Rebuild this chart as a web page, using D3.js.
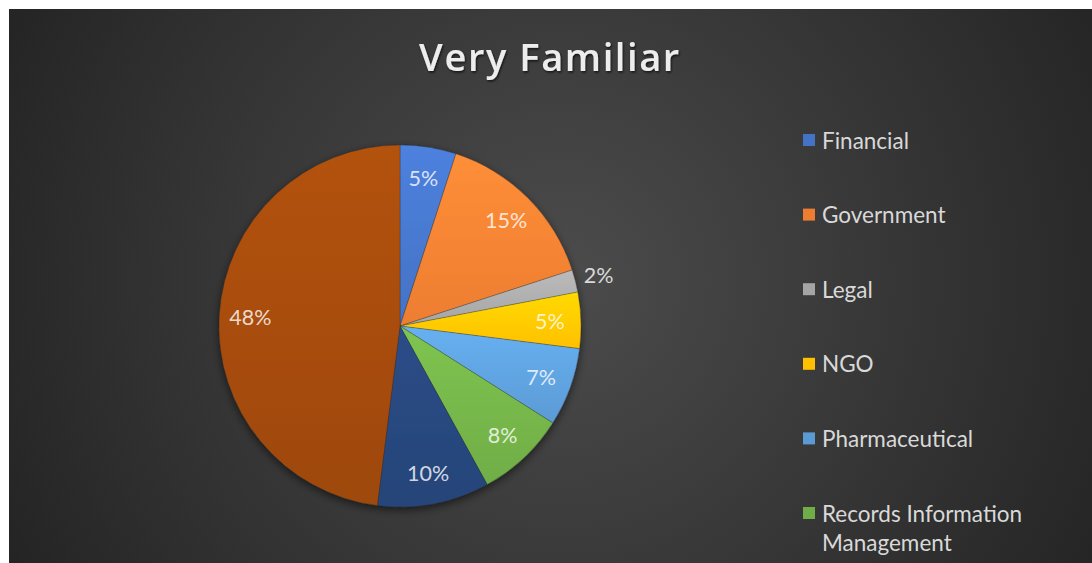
<!DOCTYPE html>
<html>
<head>
<meta charset="utf-8">
<script src="https://cdn.jsdelivr.net/npm/d3@7"></script>
<style>
  html, body { margin: 0; padding: 0; background: #ffffff; }
  svg { display: block; }
</style>
</head>
<body>
<svg id="chart" width="1092" height="563"></svg>
<script>
// Sectors of respondents who are "very familiar", share of answers in %
const categories = ["Financial", "Government", "Legal", "NGO", "Pharmaceutical",
                    "Records Information Management", "Category 7", "Category 8"];
const values = [5, 15, 2, 5, 7, 8, 10, 48];
const colors = ["#4472C4", "#ED7D31", "#A5A5A5", "#FFC000", "#5B9BD5",
                "#70AD47", "#264478", "#9E480E"];
const title = "Very Familiar";

const W = 1092, H = 563;
const svg = d3.select("#chart");
const defs = svg.append("defs");

// Chart area: dark radial backdrop
const bg = defs.append("radialGradient").attr("id", "bg")
  .attr("gradientUnits", "userSpaceOnUse")
  .attr("cx", 560).attr("cy", 280).attr("r", 620);
bg.append("stop").attr("offset", "0").attr("stop-color", "#4c4c4c");
bg.append("stop").attr("offset", "1").attr("stop-color", "#242424");

svg.append("rect").attr("x", 9).attr("y", 9)
  .attr("width", W - 9).attr("height", H - 9)
  .attr("fill", "url(#bg)");

// Soft shadows
const sh = defs.append("filter").attr("id", "pieShadow")
  .attr("x", "-20%").attr("y", "-20%").attr("width", "140%").attr("height", "140%");
sh.append("feDropShadow").attr("dx", 0).attr("dy", 3).attr("stdDeviation", 4)
  .attr("flood-color", "#000").attr("flood-opacity", 0.55);

const ts = defs.append("filter").attr("id", "textShadow")
  .attr("x", "-20%").attr("y", "-30%").attr("width", "140%").attr("height", "160%");
ts.append("feDropShadow").attr("dx", 1).attr("dy", 1.5).attr("stdDeviation", 1.2)
  .attr("flood-color", "#000").attr("flood-opacity", 0.7);

// Per-slice vertical gradients (lighter at top)
colors.forEach((c, i) => {
  const g = defs.append("linearGradient").attr("id", "slice" + i)
    .attr("x1", 0).attr("y1", 0).attr("x2", 0).attr("y2", 1);
  g.append("stop").attr("offset", "0").attr("stop-color", d3.color(c).brighter(0.35));
  g.append("stop").attr("offset", "1").attr("stop-color", c);
});

// Title
svg.append("text")
  .attr("x", 550).attr("y", 71)
  .attr("text-anchor", "middle")
  .attr("font-family", "'Open Sans', sans-serif")
  .attr("font-weight", 600)
  .attr("font-size", 38)
  .attr("letter-spacing", 1.6)
  .attr("fill", "#ededed")
  .attr("filter", "url(#textShadow)")
  .text(title);

// Pie
const cx = 400, cy = 326, R = 181;
const data = categories.map((c, i) => ({ name: c, value: values[i], color: colors[i], idx: i }));
const pie = d3.pie().value(d => d.value).sort(null);
const arcs = pie(data);
const arc = d3.arc().innerRadius(0).outerRadius(R);
const labelArc = d3.arc().innerRadius(150).outerRadius(150);
const outerLabelArc = d3.arc().innerRadius(205).outerRadius(205);

const gPie = svg.append("g").attr("transform", `translate(${cx},${cy})`);
gPie.append("g").attr("filter", "url(#pieShadow)")
  .selectAll("path").data(arcs).join("path")
  .attr("d", arc)
  .attr("fill", d => `url(#slice${d.data.idx})`)
  .attr("stroke", "rgba(40,40,40,0.35)")
  .attr("stroke-width", 0.8);

// Percentage labels: small slices get their label outside the pie
const fmt = d => Math.round(d.value) + "%";
gPie.append("g").selectAll("text").data(arcs).join("text")
  .each(function(d) {
    const small = (d.endAngle - d.startAngle) < 0.2;
    const p = (small ? outerLabelArc : labelArc).centroid(d);
    d3.select(this).attr("x", p[0]).attr("y", p[1])
      .attr("fill", small ? "#d9d9d9" : "rgba(255,255,255,0.8)");
  })
  .attr("text-anchor", "middle")
  .attr("dominant-baseline", "central")
  .attr("font-family", "Lato, sans-serif")
  .attr("font-size", 21.5)
  .text(d => fmt(d.data));

// Legend (entries that fit in the chart height)
const legX = 803, legY0 = 140, legStep = 74.6, lineH = 29;
const legend = svg.append("g");
data.forEach((d, i) => {
  const y = legY0 + i * legStep;
  if (y > H - 20) return;
  const item = legend.append("g");
  item.append("rect").attr("x", legX).attr("y", y - 6)
    .attr("width", 12).attr("height", 12).attr("fill", d.color);
  const words = d.name.split(" ");
  const lines = words.length > 2 ? [words.slice(0, 2).join(" "), words.slice(2).join(" ")] : [d.name];
  lines.forEach((ln, k) => {
    item.append("text")
      .attr("x", legX + 19).attr("y", y + k * lineH)
      .attr("dominant-baseline", "central")
      .attr("font-family", "Lato, sans-serif")
      .attr("font-size", 22.5)
      .attr("fill", "#d9d9d9")
      .text(ln);
  });
});
</script>
</body>
</html>
